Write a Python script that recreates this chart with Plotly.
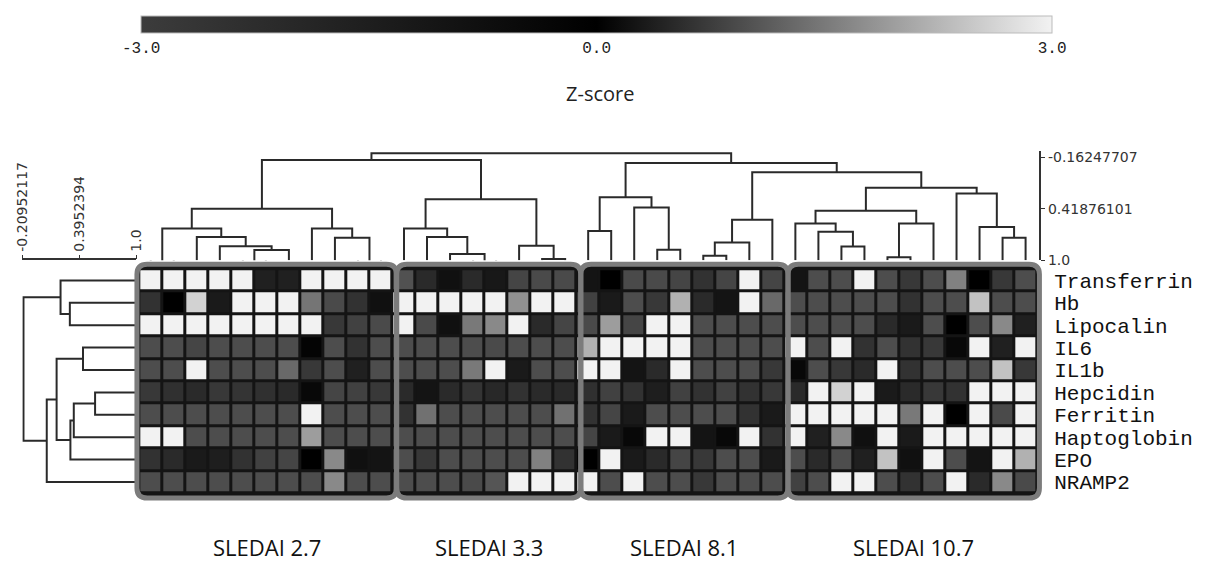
import plotly.graph_objects as go

# ---------------- data ----------------
genes = ["Transferrin", "Hb", "Lipocalin", "IL6", "IL1b", "Hepcidin",
         "Ferritin", "Haptoglobin", "EPO", "NRAMP2"]
group_labels = ["SLEDAI 2.7", "SLEDAI 3.3", "SLEDAI 8.1", "SLEDAI 10.7"]
group_sizes = [11, 8, 9, 11]

transferrin = [3.0, 3.0, 3.0, 3.0, 3.0, -1.6, -1.6, 3.0, 3.0, 3.0, 3.0,
               1.0, -2.1, -0.8, -2.1, -1.2, 0.86, 0.92, 0.92,
               -1.0, 0.0, 0.92, 0.92, 0.86, -2.5, 0.86, 3.0, 0.86,
               -1.0, 0.95, 0.95, 3.0, 0.95, -2.8, 0.95, 1.6, 0.0, -2.8, 0.95]
hb = [-2.5, 0.0, 2.6, -1.3, 3.0, 3.0, 3.0, 1.45, 0.92, -2.5, -0.8,
      3.0, 3.0, 3.0, 3.0, 3.0, 1.8, 3.0, 3.0,
      0.8, -1.3, 0.95, -2.8, 2.2, -2.1, -1.0, 3.0, 1.3,
      0.95, 0.95, 0.95, 0.95, 0.95, -2.5, 0.95, 0.95, 2.4, 0.95, 0.95]
lipocalin = [3.0, 3.0, 3.0, 3.0, 3.0, 3.0, 3.0, 3.0, -2.8, 0.8, 0.92,
             3.0, 0.92, -0.8, 1.5, 1.7, 3.0, -2.1, 0.86,
             0.92, 1.95, 0.86, 3.0, 3.0, 0.95, 0.95, 0.95, 0.95,
             0.95, 0.95, 0.95, 0.95, -2.1, -1.3, 0.95, 0.0, 0.95, 1.7, -1.6]
il6 = [0.95, 0.95, 0.86, 0.95, 0.95, 0.95, 0.95, 0.05, 0.95, -2.5, 0.95,
       0.95, 0.95, 0.95, 0.95, 0.92, 0.95, 0.95, 0.95,
       2.2, 3.0, 3.0, 3.0, 3.0, 0.95, 0.95, 0.95, 0.95,
       3.0, 0.95, 3.0, -2.5, 0.95, -2.5, -2.8, 0.1, 3.0, -1.6, 3.0]
il1b = [0.95, 0.95, 3.0, 0.95, 0.95, 0.95, 1.3, -2.8, 0.95, -1.6, 0.95,
        0.95, 0.95, 0.95, 1.5, 3.0, -1.3, 0.95, 0.95,
        3.0, 3.0, -1.0, -2.1, 3.0, 0.95, 0.95, 0.95, -2.8,
        0.1, 0.95, -2.8, -2.1, 3.0, -2.5, 0.95, 0.95, 0.95, 2.4, -2.8]
hepcidin = [-2.8, -2.4, -2.1, -2.8, -2.6, -2.4, -2.1, 0.1, 0.86, 0.8, -2.8,
            -2.1, -1.0, -2.1, -2.6, -2.0, -2.5, -2.1, -2.1,
            -2.4, 0.8, -2.5, -1.5, 0.8, -2.5, 0.8, -2.5, -2.8,
            -2.1, 3.0, 2.6, 3.0, -1.3, -2.1, -2.8, -2.5, 3.0, 3.0, 3.0]
ferritin = [0.95, 0.95, 0.95, 0.95, 0.95, 0.95, 0.95, 3.0, 0.95, 0.95, 0.95,
            -2.5, 1.4, 0.95, 0.95, 0.95, 0.95, 0.95, 1.4,
            -2.5, 0.86, -1.3, 0.95, 0.95, 0.95, 0.95, -2.5, -1.3,
            3.0, 3.0, 3.0, 3.0, 3.0, 1.5, 3.0, 0.0, 3.0, 0.92, 3.0]
haptoglobin = [3.0, 3.0, 0.95, 0.95, 0.95, 0.95, 0.95, 1.95, 0.95, 0.95, 0.95,
               0.95, 0.95, 0.95, 0.95, 0.95, 0.95, 0.95, 0.95,
               0.86, -1.3, 0.1, 3.0, 3.0, -1.0, 0.1, 3.0, -2.5,
               3.0, -1.6, 1.7, -0.8, 3.0, -1.3, 3.0, 3.0, 3.0, 3.0, 3.0]
epo = [-2.5, -2.1, -1.3, -1.5, -2.5, 0.8, 0.86, 0.0, 1.7, -0.8, -1.0,
       0.95, -2.8, 0.95, 0.95, 0.95, 0.95, 1.6, -2.5,
       0.0, 3.0, -1.3, -2.1, 0.86, -2.8, 0.95, 0.95, -1.3,
       0.95, -2.1, 0.95, -1.6, 2.4, -0.8, 3.0, 0.95, -1.0, 3.0, 2.2]
nramp2 = [0.95, 0.95, 0.95, 0.95, 0.95, 0.95, 0.95, 0.95, 1.7, 0.95, 0.95,
          0.95, 0.95, 0.95, 0.92, 1.05, 3.0, 3.0, 3.0,
          3.0, 0.95, 3.0, 0.95, 0.95, -2.8, 0.95, 0.95, 0.95,
          0.8, 0.95, 3.0, 3.0, 0.95, -2.5, 0.95, 3.0, -2.1, 1.7, 0.92]

# column dendrogram: (child a, child b, merge height); new node ids start at 39
col_merges = [
    (0, 1, 1.02), (4, 5, 1.02), (40, 6, 0.886), (3, 41, 0.842), (2, 42, 0.738),
    (39, 43, 0.643), (9, 10, 1.02), (8, 45, 0.746), (7, 46, 0.643), (44, 47, 0.421),
    (14, 15, 1.02), (13, 49, 0.930), (12, 50, 0.738), (11, 51, 0.643),
    (17, 18, 0.986), (16, 53, 0.837), (52, 54, 0.314), (48, 55, -0.128),
    (19, 20, 0.671), (22, 23, 0.882), (21, 58, 0.406), (57, 59, 0.292),
    (24, 25, 0.948), (61, 26, 0.801), (62, 27, 0.543),
    (30, 31, 0.845), (29, 64, 0.679), (28, 65, 0.587),
    (32, 33, 0.967), (67, 34, 0.587), (66, 68, 0.444),
    (37, 38, 0.746), (36, 70, 0.627), (35, 71, 0.248), (69, 72, 0.185),
    (63, 73, 0.008), (60, 74, -0.095), (56, 75, -0.206),
]
# row dendrogram: new node ids start at 10
row_merges = [
    (1, 2, 0.292), (0, 10, 0.193), (3, 4, 0.432), (5, 6, 0.561), (13, 7, 0.334),
    (14, 8, 0.298), (12, 15, 0.151), (16, 9, 0.046), (11, 17, -0.202),
]
col_scale_vals = [-0.16247707, 0.41876101, 1.0]
col_scale_text = ["-0.16247707", "0.41876101", "1.0"]
row_scale_vals = [-0.20952117, 0.3952394, 1.0]
row_scale_text = ["-0.20952117", "0.3952394", "1.0"]
z_ticks = [-3, 0, 3]
z_ticktext = ["-3.0", "0.0", "3.0"]

z = [transferrin, hb, lipocalin, il6, il1b, hepcidin, ferritin,
     haptoglobin, epo, nramp2]
n_cols = len(z[0])
n_rows = len(genes)


def dendro(n_leaves, merges):
    pos = {i: float(i) for i in range(n_leaves)}
    hgt = {i: 1.0 for i in range(n_leaves)}
    P, Hh = [], []
    for k, (a, b, h) in enumerate(merges):
        node = n_leaves + k
        P += [pos[a], pos[a], pos[b], pos[b], None]
        Hh += [hgt[a], h, h, hgt[b], None]
        pos[node] = (pos[a] + pos[b]) / 2
        hgt[node] = h
    return P, Hh


# ---------------- geometry (window pixels) ----------------
W, H = 1212, 568
col_pitch, col0 = 23.33, 144.67
row_pitch, row0 = 22.8, 283.4
hx_range = [-0.8, 38.8]
hy_range = [9.9, -0.9]
tx_range = [-0.8, 38.6]


def fx(p):
    return p / W


def fy(p):
    return 1 - p / H


heat_x_dom = [fx(col0 + hx_range[0] * col_pitch), fx(col0 + hx_range[1] * col_pitch)]
heat_top_px = row0 + hy_range[1] * row_pitch
heat_bot_px = row0 + hy_range[0] * row_pitch
heat_y_dom = [fy(heat_bot_px), fy(heat_top_px)]
top_px = 152
unit_px = 90.4
v_top = 1 - (heat_top_px - top_px) / unit_px

# left dendrogram scale: 1.0 at x=130 px, 95.1 px per unit
lx_range = [-0.215, 1.0]
left_unit_px = 95.1
left_dom = [fx(130 - (lx_range[1] - lx_range[0]) * left_unit_px), fx(130)]

fig = go.Figure()

fig.add_trace(go.Heatmap(
    z=z, x=list(range(n_cols)), y=list(range(n_rows)),
    zmin=-3, zmax=3,
    colorscale=[[0, "#3c3c3c"], [0.5, "#000000"], [1, "#f2f2f2"]],
    xgap=3, ygap=3,
    colorbar=dict(
        orientation="h", x=fx((141 + 1052) / 2), xanchor="center",
        y=fy(14), yanchor="top", len=911, lenmode="pixels", thickness=17,
        xpad=0, ypad=0, outlinewidth=1, outlinecolor="#bbbbbb",
        tickvals=z_ticks, ticktext=z_ticktext, ticks="outside", ticklen=1,
        tickcolor="rgba(0,0,0,0)",
        tickfont=dict(family="Liberation Mono", size=16, color="#222"),
    ),
    hoverinfo="skip",
))

cx, cy = dendro(n_cols, col_merges)
fig.add_trace(go.Scatter(x=cx, y=cy, mode="lines", xaxis="x2", yaxis="y2",
                         line=dict(color="#2a2a2a", width=2), hoverinfo="skip"))
ry, rx = dendro(n_rows, row_merges)
fig.add_trace(go.Scatter(x=rx, y=ry, mode="lines", xaxis="x3", yaxis="y3",
                         line=dict(color="#2a2a2a", width=2), hoverinfo="skip"))

# group boxes
cum = [0]
for s in group_sizes:
    cum.append(cum[-1] + s)
edges = [c - 0.5 + 0.18 for c in cum]
edges[0] = -0.6
edges[-1] = 38.6
y0b, y1b = -0.72, 9.72


def rpath(x0, x1, y0, y1, rx_=0.45, ry_=0.45):
    return (f"M {x0+rx_},{y0} L {x1-rx_},{y0} Q {x1},{y0} {x1},{y0+ry_} "
            f"L {x1},{y1-ry_} Q {x1},{y1} {x1-rx_},{y1} L {x0+rx_},{y1} "
            f"Q {x0},{y1} {x0},{y1-ry_} L {x0},{y0+ry_} Q {x0},{y0} {x0+rx_},{y0} Z")


shapes = []
for g in range(len(group_sizes)):
    p = rpath(edges[g], edges[g + 1], y0b, y1b)
    shapes.append(dict(type="path", path=p, xref="x", yref="y", layer="below",
                       fillcolor="#141414", line=dict(width=0)))
for g in range(len(group_sizes)):
    p = rpath(edges[g], edges[g + 1], y0b, y1b)
    shapes.append(dict(type="path", path=p, xref="x", yref="y", layer="above",
                       fillcolor="rgba(0,0,0,0)", line=dict(color="#7c7c7c", width=5)))

annotations = [dict(text="Z-score", x=fx(600), y=fy(93), xref="paper", yref="paper",
                    xanchor="center", yanchor="middle", showarrow=False,
                    font=dict(family="Open Sans", size=20, color="#222"))]
for g, lab in enumerate(group_labels):
    annotations.append(dict(text=lab, x=(edges[g] + edges[g + 1]) / 2, y=fy(555),
                            xref="x", yref="paper", xanchor="center", yanchor="middle",
                            showarrow=False,
                            font=dict(family="Open Sans", size=22, color="#111")))

axfont = dict(family="DejaVu Sans", size=14, color="#333")
fig.update_layout(
    width=W, height=H, autosize=False,
    margin=dict(l=0, r=0, t=0, b=0),
    paper_bgcolor="white", plot_bgcolor="rgba(0,0,0,0)",
    showlegend=False,
    xaxis=dict(domain=heat_x_dom, range=hx_range, visible=False, anchor="y"),
    yaxis=dict(domain=heat_y_dom, range=hy_range, anchor="x", side="right",
               tickvals=list(range(n_rows)), ticktext=genes, showgrid=False,
               zeroline=False, showline=False, ticks="outside", ticklen=5,
               tickcolor="rgba(0,0,0,0)",
               tickfont=dict(family="Liberation Mono", size=21, color="#111")),
    xaxis2=dict(domain=[fx(col0 + tx_range[0] * col_pitch), fx(col0 + tx_range[1] * col_pitch)],
                range=tx_range, visible=False, anchor="y2"),
    yaxis2=dict(domain=[fy(heat_top_px), fy(top_px)], range=[1.0, v_top], anchor="x2",
                side="right", tickvals=col_scale_vals, ticktext=col_scale_text,
                showgrid=False, zeroline=False, showline=True, linecolor="#333",
                linewidth=1.5, ticks="outside", ticklen=4, tickcolor="#333",
                tickfont=axfont, ticklabeloverflow="allow"),
    xaxis3=dict(domain=left_dom, range=lx_range, anchor="y3",
                side="top", tickvals=row_scale_vals, ticktext=row_scale_text,
                tickangle=-90, showgrid=False, zeroline=False, showline=True,
                linecolor="#333", linewidth=1.5, ticks="outside", ticklen=4,
                tickcolor="#333", tickfont=axfont, ticklabeloverflow="allow"),
    yaxis3=dict(domain=heat_y_dom, range=hy_range, anchor="x3", visible=False),
    shapes=shapes,
    annotations=annotations,
)

# remove the browser's default page margin so the figure fills the window exactly
fig.write_html("out.html", config={"displayModeBar": False},
               post_script="document.body.style.margin='0';")
